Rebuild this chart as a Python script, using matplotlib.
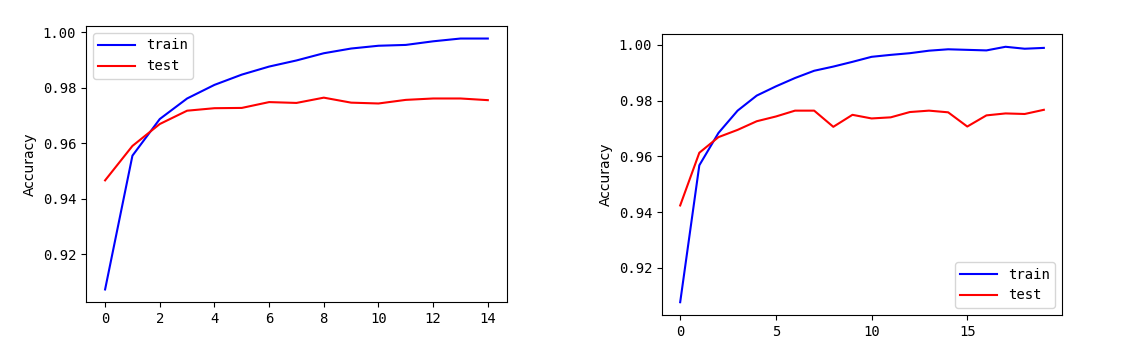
import matplotlib
matplotlib.use("Agg")
import matplotlib.pyplot as plt

# 刻度和图例用等宽字体, 接近原图 SimHei 的西文字形
plt.rcParams['font.family'] = ['DejaVu Sans Mono', 'Noto Sans CJK SC']
plt.rcParams['axes.unicode_minus'] = False

# 左图: 15 个 epoch
train_acc_1 = [0.9074, 0.9556, 0.9688, 0.9762, 0.9811, 0.9848, 0.9877, 0.9899,
               0.9925, 0.9942, 0.9952, 0.9955, 0.9968, 0.9978, 0.9978]
test_acc_1 = [0.9467, 0.9591, 0.9670, 0.9718, 0.9727, 0.9728, 0.9749, 0.9746,
              0.9765, 0.9747, 0.9744, 0.9757, 0.9762, 0.9762, 0.9756]

# 右图: 20 个 epoch
train_acc_2 = [0.9077, 0.9568, 0.9684, 0.9764, 0.9818, 0.9851, 0.9881, 0.9907,
               0.9922, 0.9939, 0.9957, 0.9964, 0.9970, 0.9979, 0.9984, 0.9982,
               0.9980, 0.9993, 0.9986, 0.9989]
test_acc_2 = [0.9424, 0.9613, 0.9669, 0.9695, 0.9726, 0.9743, 0.9764, 0.9764,
              0.9706, 0.9749, 0.9736, 0.9740, 0.9759, 0.9764, 0.9758, 0.9707,
              0.9747, 0.9754, 0.9752, 0.9767]

fig = plt.figure(figsize=(11.4, 3.55), dpi=100)
ax1 = fig.add_axes([0.0754, 0.1493, 0.3693, 0.7775])
ax2 = fig.add_axes([0.5807, 0.1127, 0.3509, 0.7915])

ax1.plot(range(len(train_acc_1)), train_acc_1, color='blue', label='train')
ax1.plot(range(len(test_acc_1)), test_acc_1, color='red', label='test')
ax1.set_ylabel('Accuracy', family='DejaVu Sans')
ax1.set_xticks(range(0, 15, 2))
ax1.legend(loc='upper left', handlelength=2.6)

ax2.plot(range(len(train_acc_2)), train_acc_2, color='blue', label='train')
ax2.plot(range(len(test_acc_2)), test_acc_2, color='red', label='test')
ax2.set_ylabel('Accuracy', family='DejaVu Sans')
ax2.set_xticks(range(0, 20, 5))
ax2.legend(loc='lower right', handlelength=2.6)

fig.savefig('out.png', dpi=100)
